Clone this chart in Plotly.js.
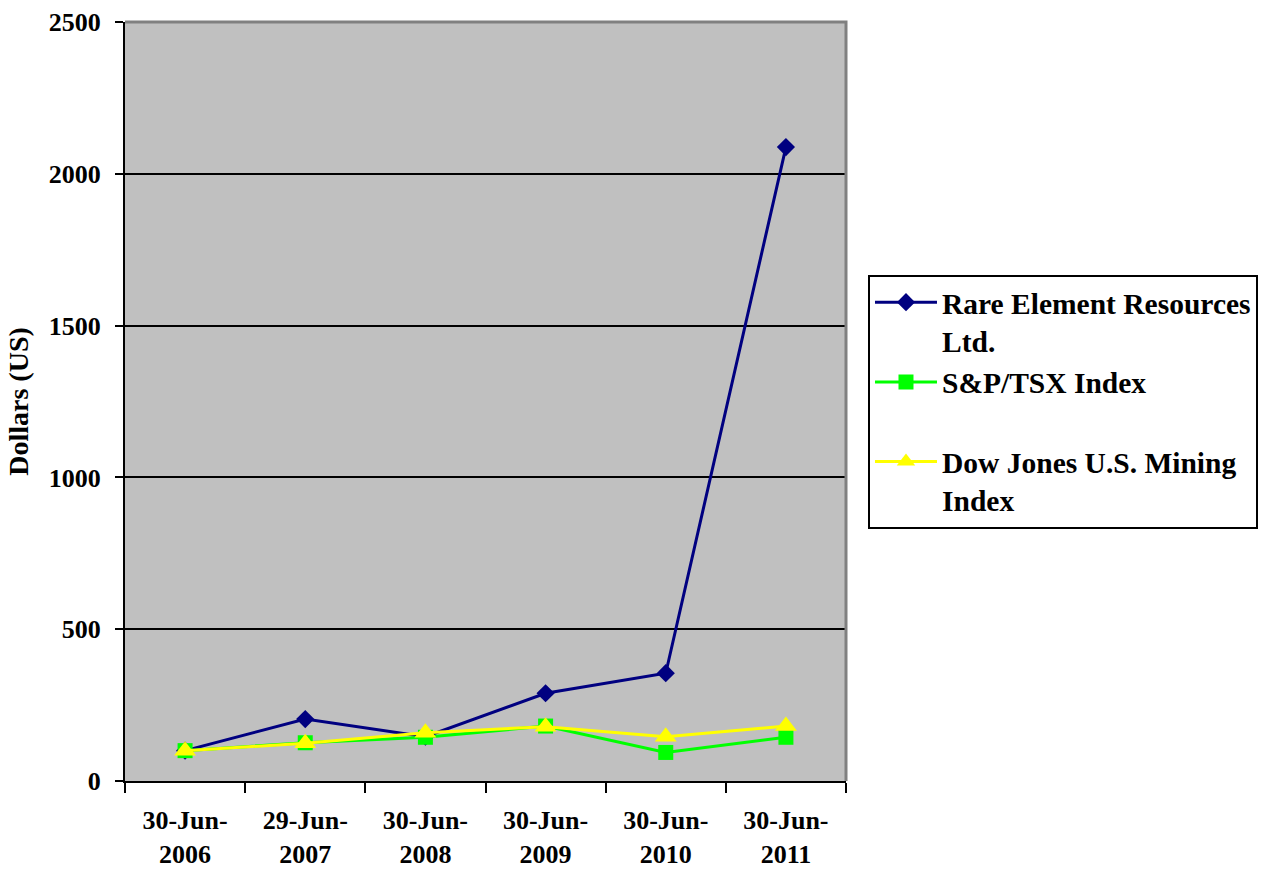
<!DOCTYPE html>
<html>
<head>
<meta charset="utf-8">
<script src="https://cdn.plot.ly/plotly-3.0.1.min.js"></script>
<style>html,body{margin:0;padding:0;background:#fff;}#chart{width:1269px;height:869px;}</style>
</head>
<body>
<div id="chart"></div>
<script>
const categories = ["30-Jun-2006","29-Jun-2007","30-Jun-2008","30-Jun-2009","30-Jun-2010","30-Jun-2011"];
const tickLabels = ["30-Jun-<br>2006","29-Jun-<br>2007","30-Jun-<br>2008","30-Jun-<br>2009","30-Jun-<br>2010","30-Jun-<br>2011"];
const rareElement = [100, 204, 146, 289, 355, 2088];
const spTsx = [100, 126, 144, 181, 94, 144];
const dowJonesMining = [100, 124, 159, 179, 146, 181];
const seriesNames = ["Rare Element Resources<br>Ltd.", "S&P/TSX Index<br> ", "Dow Jones U.S. Mining<br>Index"];

const FONT = "'Liberation Serif', 'Times New Roman', serif";

const traces = [
  {x: categories, y: rareElement, name: seriesNames[0], type: "scatter", mode: "lines+markers",
   line: {color: "#000080", width: 3}, marker: {symbol: "diamond", size: 14, color: "#000080"}},
  {x: categories, y: spTsx, name: seriesNames[1], type: "scatter", mode: "lines+markers",
   line: {color: "#00FF00", width: 3}, marker: {symbol: "square", size: 15, color: "#00FF00"}},
  {x: categories, y: dowJonesMining, name: seriesNames[2], type: "scatter", mode: "lines+markers",
   line: {color: "#FFFF00", width: 3}, marker: {symbol: "triangle-up", size: 19, color: "#FFFF00"}}
];

const layout = {
  width: 1269, height: 869,
  margin: {l: 125, r: 423, t: 22, b: 88, autoexpand: false},
  paper_bgcolor: "#FFFFFF",
  plot_bgcolor: "#C0C0C0",
  font: {family: FONT, color: "#000", size: 26, weight: "bold"},
  showlegend: true,
  legend: {
    x: 1.0305, xanchor: "left", y: 0.5, yanchor: "middle",
    bgcolor: "#FFFFFF", bordercolor: "#000", borderwidth: 2,
    font: {family: FONT, size: 29.5, color: "#000", weight: "bold"},
    valign: "top", itemwidth: 62, traceorder: "normal"
  },
  xaxis: {
    type: "category", range: [-0.5, 5.5],
    tickmode: "array", tickvals: categories, ticktext: tickLabels,
    tickson: "boundaries", ticks: "outside", ticklen: 10, tickwidth: 2, tickcolor: "#000",
    showline: true, linecolor: "#000", linewidth: 2,
    showgrid: false, zeroline: false, fixedrange: true,
    ticklabelstandoff: 15,
    tickfont: {family: FONT, size: 26, color: "#000", weight: "bold"}
  },
  yaxis: {
    range: [0, 2500], dtick: 500, tick0: 0,
    ticks: "outside", ticklen: 8, tickwidth: 2, tickcolor: "#000",
    showline: true, linecolor: "#000", linewidth: 2,
    showgrid: true, gridcolor: "#000", gridwidth: 2, zeroline: false,
    ticklabelstandoff: 9,
    tickfont: {family: FONT, size: 26, color: "#000", weight: "bold"},
    title: {text: "Dollars (US)", standoff: 12, font: {family: FONT, size: 28, color: "#000", weight: "bold"}}
  },
  shapes: [
    {type: "path", xref: "paper", yref: "paper", path: "M0,1 L1,1 L1,0", line: {color: "#808080", width: 3}, layer: "above"}
  ]
};

Plotly.newPlot("chart", traces, layout, {displayModeBar: false, staticPlot: true});
</script>
</body>
</html>
